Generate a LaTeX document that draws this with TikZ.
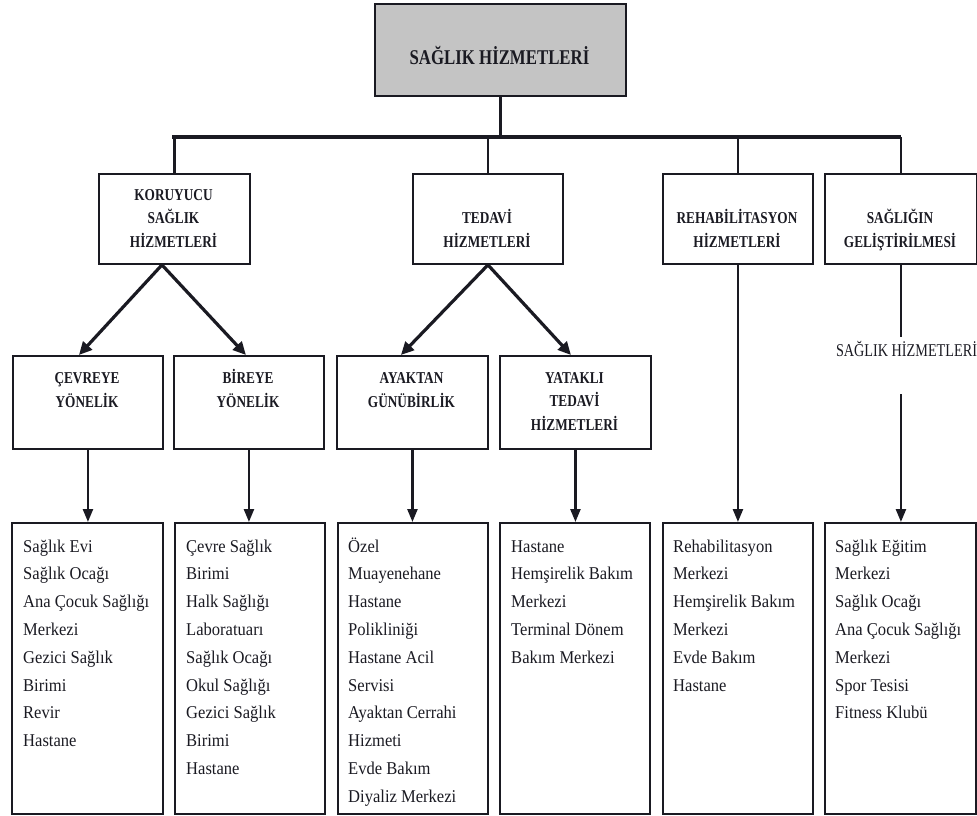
\documentclass[tikz,border=0pt]{standalone}
\usepackage{fontspec}
\setmainfont{Liberation Serif}
\newfontfamily\bldfam[FakeStretch=0.8]{Liberation Serif}
\newfontfamily\regfam[FakeStretch=0.92]{Liberation Serif}
\newfontfamily\sidefam[FakeStretch=0.79]{Liberation Serif}
\usetikzlibrary{arrows.meta}
\definecolor{boxgray}{RGB}{196,196,196}
\definecolor{ink}{RGB}{26,26,34}
\tikzset{
  box/.style={draw=ink, line width=1.9pt, inner sep=0pt, anchor=north west},
  topbox/.style={box, fill=boxgray},
  toplbl/.style={font=\bldfam\bfseries\fontsize{21}{25}\selectfont, text=ink, anchor=base, inner sep=0pt},
  lbl/.style={font=\bldfam\bfseries\fontsize{16.6}{23.5}\selectfont, text=ink, align=center, anchor=base, inner sep=0pt},
  items/.style={font=\regfam\fontsize{18}{27.8}\selectfont, text=ink, align=left, anchor=base west, inner sep=0pt},
  sidelbl/.style={font=\sidefam\fontsize{18}{22}\selectfont, text=ink, anchor=base, inner sep=0pt},
  conn/.style={draw=ink, line width=2.4pt},
  busline/.style={draw=ink, line width=4pt, line cap=rect},
  diag/.style={draw=ink, line width=3.2pt, -{Triangle[length=13pt,width=12pt]}},
  varr/.style={draw=ink, line width=2.4pt, -{Triangle[length=13pt,width=10pt]}}
}
\begin{document}
\begin{tikzpicture}[x=1pt,y=-1pt]
\useasboundingbox (0,0) rectangle (977,816);

% top
\node[topbox, minimum width=251pt, minimum height=92pt] (top) at (374,3) {};
\node[toplbl] (topT) at (499.5,64) {SAĞLIK HİZMETLERİ};

% level 2 (anchor=base is the last line's baseline)
\node[box, minimum width=151pt, minimum height=90pt] (kor) at (98,173) {};
\node[box, minimum width=150pt, minimum height=90pt] (ted) at (412,173) {};
\node[box, minimum width=150pt, minimum height=90pt] (reh) at (662,173) {};
\node[box, minimum width=152pt, minimum height=90pt] (sag) at (824,173) {};
\node[lbl] (korT) at (173.5,247) {KORUYUCU\\SAĞLIK\\HİZMETLERİ};
\node[lbl] (tedT) at (487,247) {TEDAVİ\\HİZMETLERİ};
\node[lbl] (rehT) at (737,247) {REHABİLİTASYON\\HİZMETLERİ};
\node[lbl] (sagT) at (900,247) {SAĞLIĞIN\\GELİŞTİRİLMESİ};

% level 3
\node[box, minimum width=150pt, minimum height=93pt] (cev) at (12,355) {};
\node[box, minimum width=150pt, minimum height=93pt] (bir) at (173,355) {};
\node[box, minimum width=151pt, minimum height=93pt] (aya) at (336,355) {};
\node[box, minimum width=151pt, minimum height=93pt] (yat) at (499,355) {};
\node[lbl] (cevT) at (87,407) {ÇEVREYE\\YÖNELİK};
\node[lbl] (birT) at (248,407) {BİREYE\\YÖNELİK};
\node[lbl] (ayaT) at (411.5,407) {AYAKTAN\\GÜNÜBİRLİK};
\node[lbl] (yatT) at (574.5,430) {YATAKLI\\TEDAVİ\\HİZMETLERİ};

% side label
\node[sidelbl] (side) at (906.5,356) {SAĞLIK HİZMETLERİ};
\coordinate (g1) at (900,337);
\coordinate (g2) at (900,394);

% bottom boxes
\node[box, minimum width=151pt, minimum height=291pt] (b1) at (11,522) {};
\node[box, minimum width=150pt, minimum height=291pt] (b2) at (174,522) {};
\node[box, minimum width=150pt, minimum height=291pt] (b3) at (337,522) {};
\node[box, minimum width=150pt, minimum height=291pt] (b4) at (499,522) {};
\node[box, minimum width=150pt, minimum height=291pt] (b5) at (662,522) {};
\node[box, minimum width=151pt, minimum height=291pt] (b6) at (824,522) {};
\node[items] (b1T) at (23,746.6) {Sağlık Evi\\Sağlık Ocağı\\Ana Çocuk Sağlığı\\Merkezi\\Gezici Sağlık\\Birimi\\Revir\\Hastane};
\node[items] (b2T) at (186,774.4) {Çevre Sağlık\\Birimi\\Halk Sağlığı\\Laboratuarı\\Sağlık Ocağı\\Okul Sağlığı\\Gezici Sağlık\\Birimi\\Hastane};
\node[items] (b3T) at (348,802.2) {Özel\\Muayenehane\\Hastane\\Polikliniği\\Hastane Acil\\Servisi\\Ayaktan Cerrahi\\Hizmeti\\Evde Bakım\\Diyaliz Merkezi};
\node[items] (b4T) at (511,663.2) {Hastane\\Hemşirelik Bakım\\Merkezi\\Terminal Dönem\\Bakım Merkezi};
\node[items] (b5T) at (673,691) {Rehabilitasyon\\Merkezi\\Hemşirelik Bakım\\Merkezi\\Evde Bakım\\Hastane};
\node[items] (b6T) at (835,718.8) {Sağlık Eğitim\\Merkezi\\Sağlık Ocağı\\Ana Çocuk Sağlığı\\Merkezi\\Spor Tesisi\\Fitness Klubü};

% bus and drops
\coordinate (busL) at (174,137);
\coordinate (busR) at (899,137);
\draw[conn] (top.south) -- (top.south |- busL);
\draw[busline] (busL) -- (busR);
\draw[conn] (kor.north) -- (kor.north |- busL);
\draw[conn] (ted.north) -- (ted.north |- busL);
\draw[conn] (reh.north) -- (reh.north |- busL);
\draw[conn] (sag.north) -- (sag.north |- busL);

% diagonal arrows
\draw[diag] ([xshift=-12.5pt]kor.south) -- ([xshift=-9pt]cev.north);
\draw[diag] ([xshift=-12.5pt]kor.south) -- ([xshift=-3pt]bir.north);
\draw[diag] (ted.south) -- ([xshift=-11.5pt]aya.north);
\draw[diag] (ted.south) -- ([xshift=-4.5pt]yat.north);

% vertical arrows
\draw[varr] (cev.south) -- (cev.south |- b1.north);
\draw[varr] (bir.south) -- (bir.south |- b2.north);
\draw[varr] (aya.south) -- (aya.south |- b3.north);
\draw[varr] (yat.south) -- (yat.south |- b4.north);
\draw[varr] (reh.south) -- (reh.south |- b5.north);
\draw[conn] (sag.south) -- (sag.south |- g1);
\draw[varr] (sag.south |- g2) -- (sag.south |- b6.north);
\end{tikzpicture}
\end{document}
